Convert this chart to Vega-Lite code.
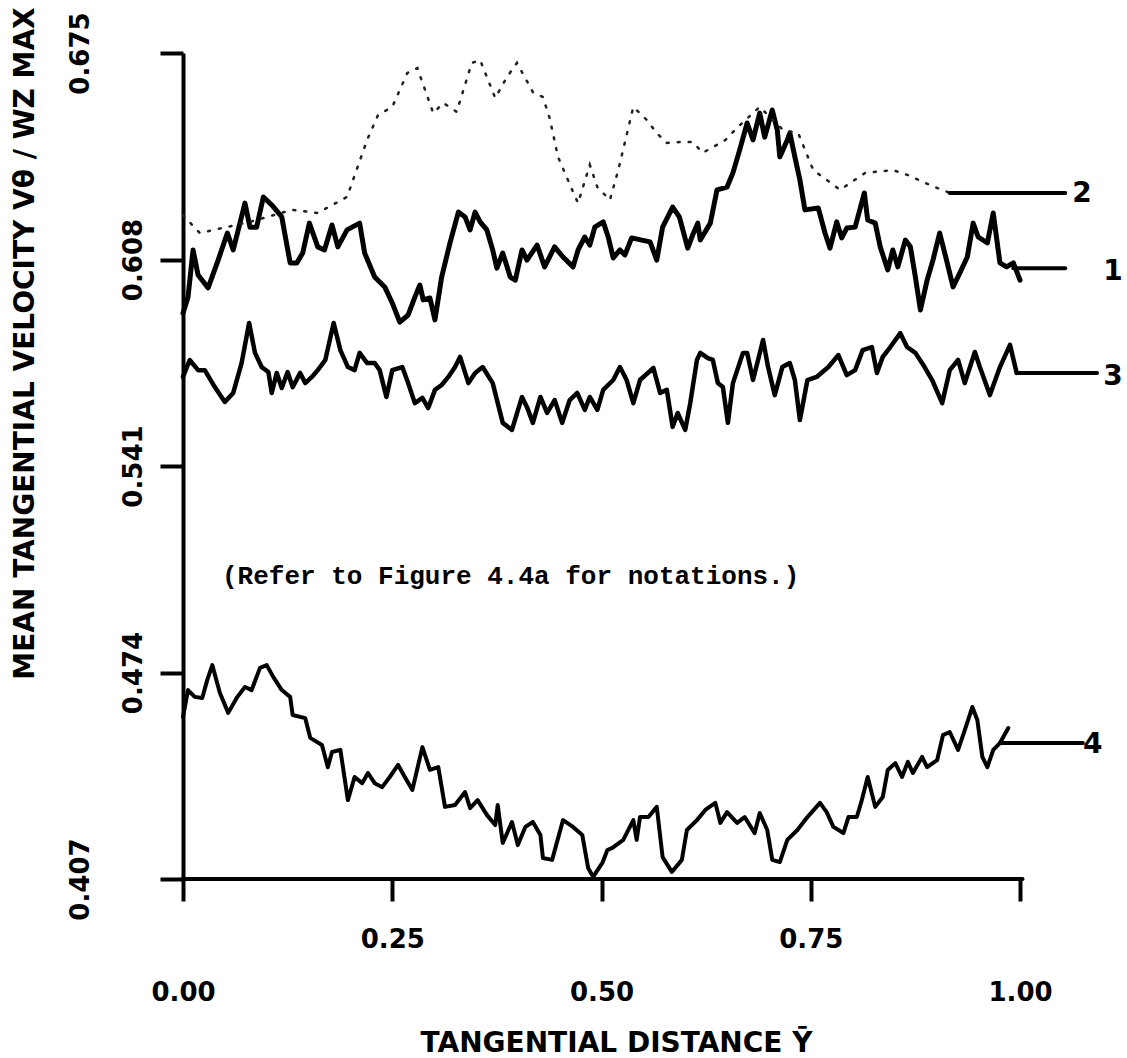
{
  "$schema": "https://vega.github.io/schema/vega-lite/v6.json",
  "autosize": {"type": "none"},
  "padding": {"left": 183, "top": 53, "right": 0, "bottom": 179},
  "width": 944,
  "height": 826,
  "background": "white",
  "config": {"view": {"stroke": null}},
  "datasets": {
    "c1": [
      {"x":0,"y":0.5906},{"x":0.006,"y":0.5958},{"x":0.012,"y":0.6111},{"x":0.018,"y":0.603},{"x":0.03,"y":0.5988},{"x":0.042,"y":0.6078},{"x":0.053,"y":0.6166},{"x":0.06,"y":0.6111},{"x":0.066,"y":0.6176},{"x":0.074,"y":0.6263},{"x":0.08,"y":0.6185},{"x":0.088,"y":0.6185},{"x":0.096,"y":0.6283},{"x":0.106,"y":0.6257},{"x":0.118,"y":0.6218},{"x":0.128,"y":0.6069},{"x":0.136,"y":0.6069},{"x":0.143,"y":0.6101},{"x":0.151,"y":0.6198},{"x":0.161,"y":0.6121},{"x":0.169,"y":0.6111},{"x":0.178,"y":0.6192},{"x":0.185,"y":0.6121},{"x":0.196,"y":0.6176},{"x":0.211,"y":0.6198},{"x":0.217,"y":0.6101},{"x":0.229,"y":0.6023},{"x":0.241,"y":0.5991},{"x":0.25,"y":0.5939},{"x":0.259,"y":0.5877},{"x":0.269,"y":0.59},{"x":0.277,"y":0.5958},{"x":0.283,"y":0.5997},{"x":0.287,"y":0.5949},{"x":0.295,"y":0.5955},{"x":0.301,"y":0.5884},{"x":0.309,"y":0.6023},{"x":0.319,"y":0.6134},{"x":0.329,"y":0.6234},{"x":0.337,"y":0.6218},{"x":0.343,"y":0.6176},{"x":0.349,"y":0.6234},{"x":0.355,"y":0.6202},{"x":0.363,"y":0.6176},{"x":0.37,"y":0.6111},{"x":0.375,"y":0.6052},{"x":0.382,"y":0.6101},{"x":0.391,"y":0.6023},{"x":0.397,"y":0.6013},{"x":0.405,"y":0.6111},{"x":0.411,"y":0.6078},{"x":0.423,"y":0.6127},{"x":0.432,"y":0.6056},{"x":0.444,"y":0.6121},{"x":0.454,"y":0.6088},{"x":0.466,"y":0.6056},{"x":0.472,"y":0.6111},{"x":0.48,"y":0.6153},{"x":0.486,"y":0.6127},{"x":0.492,"y":0.6185},{"x":0.502,"y":0.6202},{"x":0.508,"y":0.6153},{"x":0.514,"y":0.6085},{"x":0.522,"y":0.6111},{"x":0.528,"y":0.6095},{"x":0.536,"y":0.615},{"x":0.548,"y":0.6143},{"x":0.558,"y":0.6137},{"x":0.566,"y":0.6078},{"x":0.573,"y":0.6185},{"x":0.585,"y":0.625},{"x":0.593,"y":0.6218},{"x":0.603,"y":0.6117},{"x":0.609,"y":0.616},{"x":0.615,"y":0.6198},{"x":0.618,"y":0.6143},{"x":0.63,"y":0.6198},{"x":0.638,"y":0.6306},{"x":0.65,"y":0.6315},{"x":0.657,"y":0.6361},{"x":0.665,"y":0.6435},{"x":0.674,"y":0.6523},{"x":0.681,"y":0.6468},{"x":0.689,"y":0.6555},{"x":0.695,"y":0.6477},{"x":0.704,"y":0.6565},{"x":0.71,"y":0.65},{"x":0.713,"y":0.6413},{"x":0.722,"y":0.6468},{"x":0.725,"y":0.649},{"x":0.731,"y":0.6413},{"x":0.737,"y":0.6338},{"x":0.743,"y":0.6241},{"x":0.759,"y":0.6247},{"x":0.767,"y":0.6166},{"x":0.773,"y":0.6117},{"x":0.781,"y":0.6202},{"x":0.787,"y":0.615},{"x":0.793,"y":0.6182},{"x":0.803,"y":0.6185},{"x":0.814,"y":0.6296},{"x":0.818,"y":0.6208},{"x":0.827,"y":0.6198},{"x":0.833,"y":0.6121},{"x":0.842,"y":0.6046},{"x":0.848,"y":0.6111},{"x":0.854,"y":0.6056},{"x":0.863,"y":0.6143},{"x":0.869,"y":0.6121},{"x":0.875,"y":0.6023},{"x":0.881,"y":0.5916},{"x":0.889,"y":0.6013},{"x":0.896,"y":0.6078},{"x":0.904,"y":0.6166},{"x":0.913,"y":0.6069},{"x":0.92,"y":0.5991},{"x":0.928,"y":0.6036},{"x":0.937,"y":0.6088},{"x":0.944,"y":0.6198},{"x":0.95,"y":0.6153},{"x":0.961,"y":0.6134},{"x":0.968,"y":0.6231},{"x":0.976,"y":0.6069},{"x":0.984,"y":0.6056},{"x":0.992,"y":0.6069},{"x":1.0,"y":0.6013}
    ],
    "c2": [
      {"x":0,"y":0.6224},{"x":0.02,"y":0.6166},{"x":0.08,"y":0.6202},{"x":0.13,"y":0.6241},{"x":0.161,"y":0.6231},{"x":0.196,"y":0.6283},{"x":0.22,"y":0.6468},{"x":0.233,"y":0.6549},{"x":0.25,"y":0.6575},{"x":0.268,"y":0.6685},{"x":0.28,"y":0.6701},{"x":0.299,"y":0.6555},{"x":0.311,"y":0.6588},{"x":0.327,"y":0.6559},{"x":0.345,"y":0.6718},{"x":0.355,"y":0.6727},{"x":0.373,"y":0.6604},{"x":0.387,"y":0.6672},{"x":0.399,"y":0.6718},{"x":0.418,"y":0.6623},{"x":0.43,"y":0.6607},{"x":0.438,"y":0.6539},{"x":0.448,"y":0.6413},{"x":0.466,"y":0.6299},{"x":0.472,"y":0.6263},{"x":0.486,"y":0.6387},{"x":0.495,"y":0.6315},{"x":0.51,"y":0.6273},{"x":0.52,"y":0.637},{"x":0.538,"y":0.6575},{"x":0.554,"y":0.6533},{"x":0.566,"y":0.649},{"x":0.578,"y":0.6458},{"x":0.594,"y":0.6461},{"x":0.609,"y":0.6461},{"x":0.621,"y":0.6426},{"x":0.648,"y":0.6468},{"x":0.663,"y":0.651},{"x":0.689,"y":0.6575},{"x":0.717,"y":0.65},{"x":0.735,"y":0.649},{"x":0.753,"y":0.637},{"x":0.785,"y":0.6306},{"x":0.815,"y":0.6361},{"x":0.848,"y":0.637},{"x":0.866,"y":0.6354},{"x":0.892,"y":0.6322},{"x":0.916,"y":0.6296}
    ],
    "c3": [
      {"x":0,"y":0.5699},{"x":0.008,"y":0.5754},{"x":0.018,"y":0.5721},{"x":0.026,"y":0.5721},{"x":0.038,"y":0.5666},{"x":0.05,"y":0.5618},{"x":0.06,"y":0.5647},{"x":0.07,"y":0.5744},{"x":0.079,"y":0.5874},{"x":0.086,"y":0.5777},{"x":0.094,"y":0.5731},{"x":0.102,"y":0.5715},{"x":0.106,"y":0.5647},{"x":0.112,"y":0.5712},{"x":0.118,"y":0.5663},{"x":0.125,"y":0.5715},{"x":0.131,"y":0.5666},{"x":0.14,"y":0.5712},{"x":0.146,"y":0.5679},{"x":0.154,"y":0.5699},{"x":0.161,"y":0.5721},{"x":0.17,"y":0.5754},{"x":0.18,"y":0.5874},{"x":0.188,"y":0.5786},{"x":0.197,"y":0.5731},{"x":0.205,"y":0.5721},{"x":0.211,"y":0.5777},{"x":0.22,"y":0.5744},{"x":0.229,"y":0.5744},{"x":0.235,"y":0.5721},{"x":0.243,"y":0.5634},{"x":0.25,"y":0.5721},{"x":0.262,"y":0.5731},{"x":0.269,"y":0.5679},{"x":0.277,"y":0.5614},{"x":0.286,"y":0.5631},{"x":0.293,"y":0.5598},{"x":0.301,"y":0.5657},{"x":0.309,"y":0.5673},{"x":0.317,"y":0.5699},{"x":0.325,"y":0.5731},{"x":0.331,"y":0.5764},{"x":0.341,"y":0.5679},{"x":0.349,"y":0.5712},{"x":0.358,"y":0.5731},{"x":0.37,"y":0.5679},{"x":0.382,"y":0.555},{"x":0.393,"y":0.5527},{"x":0.405,"y":0.5634},{"x":0.411,"y":0.5601},{"x":0.418,"y":0.555},{"x":0.427,"y":0.5634},{"x":0.435,"y":0.5582},{"x":0.444,"y":0.5624},{"x":0.453,"y":0.555},{"x":0.462,"y":0.5624},{"x":0.471,"y":0.5647},{"x":0.48,"y":0.5592},{"x":0.486,"y":0.5634},{"x":0.495,"y":0.5592},{"x":0.502,"y":0.5657},{"x":0.514,"y":0.5689},{"x":0.522,"y":0.5731},{"x":0.53,"y":0.5689},{"x":0.538,"y":0.5614},{"x":0.546,"y":0.5689},{"x":0.562,"y":0.5728},{"x":0.57,"y":0.5647},{"x":0.578,"y":0.5657},{"x":0.585,"y":0.5537},{"x":0.591,"y":0.5582},{"x":0.6,"y":0.5527},{"x":0.606,"y":0.5614},{"x":0.614,"y":0.5754},{"x":0.618,"y":0.5777},{"x":0.627,"y":0.576},{"x":0.633,"y":0.5754},{"x":0.639,"y":0.5679},{"x":0.645,"y":0.5666},{"x":0.651,"y":0.555},{"x":0.657,"y":0.5679},{"x":0.669,"y":0.5777},{"x":0.674,"y":0.5777},{"x":0.681,"y":0.5689},{"x":0.693,"y":0.5819},{"x":0.699,"y":0.5731},{"x":0.707,"y":0.564},{"x":0.716,"y":0.5731},{"x":0.725,"y":0.5744},{"x":0.731,"y":0.5689},{"x":0.737,"y":0.5559},{"x":0.746,"y":0.5689},{"x":0.757,"y":0.5699},{"x":0.771,"y":0.5731},{"x":0.783,"y":0.577},{"x":0.793,"y":0.5705},{"x":0.803,"y":0.5721},{"x":0.812,"y":0.5786},{"x":0.823,"y":0.5796},{"x":0.829,"y":0.5712},{"x":0.836,"y":0.5764},{"x":0.845,"y":0.5796},{"x":0.857,"y":0.5841},{"x":0.865,"y":0.5796},{"x":0.875,"y":0.5777},{"x":0.886,"y":0.5731},{"x":0.895,"y":0.5689},{"x":0.907,"y":0.5614},{"x":0.916,"y":0.5721},{"x":0.926,"y":0.5754},{"x":0.934,"y":0.5679},{"x":0.946,"y":0.578},{"x":0.952,"y":0.5731},{"x":0.964,"y":0.564},{"x":0.976,"y":0.5731},{"x":0.988,"y":0.5803},{"x":0.996,"y":0.5712}
    ],
    "c4": [
      {"x":0,"y":0.4596},{"x":0.006,"y":0.4683},{"x":0.014,"y":0.4661},{"x":0.023,"y":0.4657},{"x":0.029,"y":0.4716},{"x":0.035,"y":0.4764},{"x":0.044,"y":0.4674},{"x":0.054,"y":0.4609},{"x":0.065,"y":0.4661},{"x":0.074,"y":0.4693},{"x":0.082,"y":0.4683},{"x":0.092,"y":0.4755},{"x":0.1,"y":0.4764},{"x":0.108,"y":0.4725},{"x":0.118,"y":0.4683},{"x":0.128,"y":0.4661},{"x":0.131,"y":0.4602},{"x":0.146,"y":0.4592},{"x":0.152,"y":0.4528},{"x":0.166,"y":0.4505},{"x":0.173,"y":0.4433},{"x":0.178,"y":0.4482},{"x":0.188,"y":0.4489},{"x":0.197,"y":0.4326},{"x":0.205,"y":0.4401},{"x":0.214,"y":0.4381},{"x":0.221,"y":0.4414},{"x":0.229,"y":0.4381},{"x":0.238,"y":0.4368},{"x":0.247,"y":0.4401},{"x":0.257,"y":0.444},{"x":0.265,"y":0.4401},{"x":0.274,"y":0.4359},{"x":0.286,"y":0.4498},{"x":0.295,"y":0.4424},{"x":0.305,"y":0.4433},{"x":0.313,"y":0.4304},{"x":0.325,"y":0.431},{"x":0.337,"y":0.4352},{"x":0.343,"y":0.43},{"x":0.352,"y":0.4326},{"x":0.363,"y":0.4278},{"x":0.373,"y":0.4245},{"x":0.376,"y":0.431},{"x":0.382,"y":0.4187},{"x":0.393,"y":0.4255},{"x":0.4,"y":0.418},{"x":0.409,"y":0.4239},{"x":0.418,"y":0.4255},{"x":0.427,"y":0.4213},{"x":0.43,"y":0.4138},{"x":0.441,"y":0.4132},{"x":0.454,"y":0.4261},{"x":0.466,"y":0.4239},{"x":0.477,"y":0.4213},{"x":0.484,"y":0.4106},{"x":0.49,"y":0.4077},{"x":0.501,"y":0.4122},{"x":0.507,"y":0.4164},{"x":0.513,"y":0.4171},{"x":0.526,"y":0.4197},{"x":0.538,"y":0.4261},{"x":0.542,"y":0.4197},{"x":0.546,"y":0.4271},{"x":0.556,"y":0.4271},{"x":0.566,"y":0.4304},{"x":0.573,"y":0.4141},{"x":0.584,"y":0.4093},{"x":0.596,"y":0.4132},{"x":0.602,"y":0.4229},{"x":0.614,"y":0.4261},{"x":0.624,"y":0.4294},{"x":0.636,"y":0.4317},{"x":0.642,"y":0.4252},{"x":0.65,"y":0.4287},{"x":0.662,"y":0.4252},{"x":0.671,"y":0.4271},{"x":0.683,"y":0.4219},{"x":0.689,"y":0.4284},{"x":0.698,"y":0.4229},{"x":0.704,"y":0.4132},{"x":0.713,"y":0.4125},{"x":0.722,"y":0.4197},{"x":0.734,"y":0.4229},{"x":0.746,"y":0.4271},{"x":0.761,"y":0.4317},{"x":0.769,"y":0.4287},{"x":0.777,"y":0.4239},{"x":0.789,"y":0.4219},{"x":0.795,"y":0.4271},{"x":0.805,"y":0.4271},{"x":0.811,"y":0.4326},{"x":0.818,"y":0.4401},{"x":0.827,"y":0.4304},{"x":0.836,"y":0.4336},{"x":0.842,"y":0.4424},{"x":0.851,"y":0.4446},{"x":0.859,"y":0.4401},{"x":0.866,"y":0.445},{"x":0.872,"y":0.4414},{"x":0.883,"y":0.4466},{"x":0.889,"y":0.4433},{"x":0.901,"y":0.4456},{"x":0.908,"y":0.4537},{"x":0.916,"y":0.4547},{"x":0.926,"y":0.4489},{"x":0.934,"y":0.4553},{"x":0.943,"y":0.4628},{"x":0.949,"y":0.4586},{"x":0.955,"y":0.4466},{"x":0.961,"y":0.4433},{"x":0.968,"y":0.4489},{"x":0.976,"y":0.4511},{"x":0.986,"y":0.456}
    ],
    "leaders": [
      {"x1":0.916,"x2":1.054,"y":0.6296},
      {"x1":0.992,"x2":1.054,"y":0.6052},
      {"x1":0.996,"x2":1.092,"y":0.5712},
      {"x1":0.976,"x2":1.075,"y":0.4511},
      {"x1":0,"x2":1.003,"y":0.407}
    ],
    "nums": [
      {"x":1.074,"y":0.6293,"t":"2"},
      {"x":1.111,"y":0.604,"t":"1"},
      {"x":1.111,"y":0.5699,"t":"3"},
      {"x":1.087,"y":0.4505,"t":"4"}
    ],
    "note": [
      {"x":0.0466,"y":0.5053,"t":"(Refer to Figure 4.4a for notations.)"}
    ]
  },
  "layer": [
    {
      "data": {"name": "c1"},
      "mark": {"type": "line", "color": "black", "strokeWidth": 5, "strokeJoin": "round", "strokeCap": "round"},
      "encoding": {
        "x": {
          "field": "x", "type": "quantitative",
          "scale": {"domain": [0, 1.1278], "nice": false, "zero": false},
          "axis": {
            "values": [0, 0.25, 0.5, 0.75, 1],
            "format": ".2f",
            "labelExpr": "(datum.value > 0.2 && datum.value < 0.3) || (datum.value > 0.7 && datum.value < 0.8) ? datum.label : [' ', datum.label]",
            "labelBaseline": "top",
            "labelAlign": "center",
            "labelLineHeight": 53,
            "labelPadding": 25,
            "labelFont": "DejaVu Sans",
            "labelFontWeight": "bold",
            "labelFontSize": 26,
            "labelColor": "black",
            "labelOverlap": false,
            "labelBound": false,
            "labelFlush": false,
            "tickSize": 22,
            "tickWidth": 4,
            "tickColor": "black",
            "domain": false,
            "grid": false,
            "title": "TANGENTIAL DISTANCE Ȳ",
            "titleFont": "DejaVu Sans",
            "titleFontWeight": "bold",
            "titleFontSize": 28,
            "titleColor": "black",
            "titleX": 433,
            "titleY": 164,
            "titleBaseline": "middle",
            "titleAlign": "center"
          }
        },
        "y": {
          "field": "y", "type": "quantitative",
          "scale": {"domain": [0.407, 0.675], "nice": false, "zero": false},
          "axis": {
            "values": [0.407, 0.474, 0.541, 0.608, 0.675],
            "format": ".3f",
            "labelExpr": "(datum.value < 0.41 || datum.value > 0.67) ? datum.label : [' ', datum.label]",
            "labelAngle": 270,
            "labelAlign": "center",
            "labelBaseline": "top",
            "labelLineHeight": 53,
            "labelPadding": 93,
            "labelFont": "DejaVu Sans",
            "labelFontWeight": "bold",
            "labelFontSize": 26,
            "labelColor": "black",
            "labelOverlap": false,
            "labelBound": false,
            "labelFlush": false,
            "tickSize": 23,
            "tickWidth": 4,
            "tickColor": "black",
            "domainWidth": 4,
            "domainColor": "black",
            "grid": false,
            "title": "MEAN TANGENTIAL VELOCITY Vθ / WZ MAX",
            "titleFont": "DejaVu Sans",
            "titleFontWeight": "bold",
            "titleFontSize": 28,
            "titleColor": "black",
            "titleAngle": 270,
            "titleX": -158,
            "titleY": 290,
            "titleBaseline": "middle",
            "titleAlign": "center"
          }
        }
      }
    },
    {
      "data": {"name": "c2"},
      "mark": {"type": "line", "color": "#222", "strokeWidth": 2.5, "strokeDash": [2, 9], "strokeCap": "round"},
      "encoding": {"x": {"field": "x", "type": "quantitative"}, "y": {"field": "y", "type": "quantitative"}}
    },
    {
      "data": {"name": "c3"},
      "mark": {"type": "line", "color": "black", "strokeWidth": 4.5, "strokeJoin": "round", "strokeCap": "round"},
      "encoding": {"x": {"field": "x", "type": "quantitative"}, "y": {"field": "y", "type": "quantitative"}}
    },
    {
      "data": {"name": "c4"},
      "mark": {"type": "line", "color": "black", "strokeWidth": 4, "strokeJoin": "round", "strokeCap": "round"},
      "encoding": {"x": {"field": "x", "type": "quantitative"}, "y": {"field": "y", "type": "quantitative"}}
    },
    {
      "data": {"name": "leaders"},
      "mark": {"type": "rule", "color": "black", "strokeWidth": 4, "strokeCap": "round"},
      "encoding": {
        "x": {"field": "x1", "type": "quantitative"},
        "x2": {"field": "x2"},
        "y": {"field": "y", "type": "quantitative"}
      }
    },
    {
      "data": {"name": "nums"},
      "mark": {"type": "text", "font": "DejaVu Sans", "fontWeight": "bold", "fontSize": 28, "align": "center", "baseline": "middle", "color": "black"},
      "encoding": {
        "x": {"field": "x", "type": "quantitative"},
        "y": {"field": "y", "type": "quantitative"},
        "text": {"field": "t"}
      }
    },
    {
      "data": {"name": "note"},
      "mark": {"type": "text", "font": "Liberation Mono", "fontWeight": "bold", "fontSize": 26, "align": "left", "baseline": "middle", "color": "black"},
      "encoding": {
        "x": {"field": "x", "type": "quantitative"},
        "y": {"field": "y", "type": "quantitative"},
        "text": {"field": "t"}
      }
    }
  ]
}
